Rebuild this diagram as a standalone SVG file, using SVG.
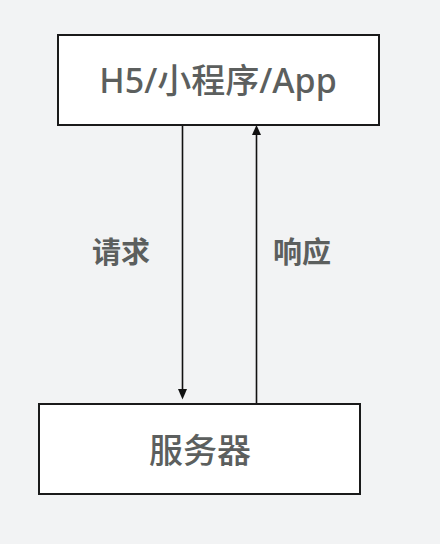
<svg xmlns="http://www.w3.org/2000/svg" width="440" height="544" viewBox="0 0 440 544">
<style>
.box{fill:#ffffff;stroke:#1a1a1a;stroke-width:2}
.t{font-family:"Noto Sans","Noto Sans CJK SC",sans-serif;fill:#5c5f5e;text-anchor:middle;font-weight:500}
.lbl{font-family:"Noto Sans CJK SC",sans-serif;fill:#5c5f5e;text-anchor:middle;font-weight:600;font-size:29px}
.ln{stroke:#111111;stroke-width:1.6;fill:none}
.ah{fill:#111111}
</style>
<rect x="0" y="0" width="440" height="544" fill="#f2f3f4"/>
<g id="connectors">
<line class="ln" x1="182.5" y1="126" x2="182.5" y2="391"/>
<polygon class="ah" points="178,389 187,389 182.5,399.5"/>
<line class="ln" x1="256.5" y1="404" x2="256.5" y2="134"/>
<polygon class="ah" points="252,135 261,135 256.5,125"/>
<text class="lbl" x="121" y="263">请求</text>
<text class="lbl" x="302" y="263">响应</text>
</g>
<g id="client">
<rect class="box" x="58" y="35" width="321" height="90"/>
<text class="t" x="218" y="93" font-size="34">H5/小程序/App</text>
</g>
<g id="server">
<rect class="box" x="39" y="404" width="321" height="90"/>
<text class="t" x="200" y="463" font-size="34">服务器</text>
</g>
</svg>
